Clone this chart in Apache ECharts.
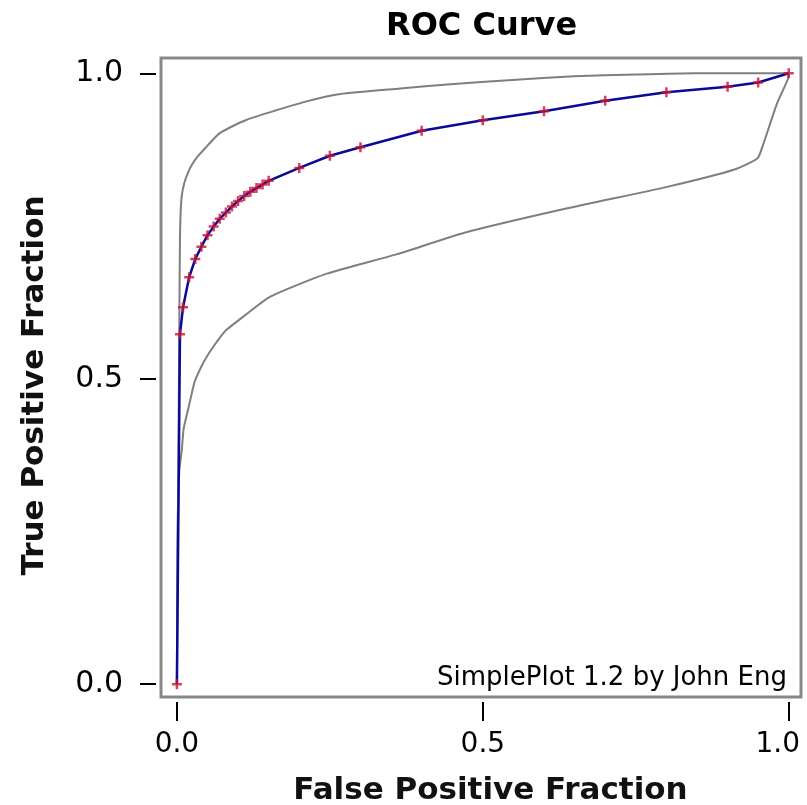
<!DOCTYPE html>
<html>
<head>
<meta charset="utf-8">
<script src="https://cdn.jsdelivr.net/npm/echarts@6/dist/echarts.min.js"></script>
<style>html,body{margin:0;padding:0;background:#fff;}#c{width:807px;height:805px;}</style>
</head>
<body>
<div id="c"></div>
<script>
// ROC operating points (fitted curve)
const fpf = [0,0.005,0.01,0.02,0.03,0.04,0.05,0.06,0.07,0.08,0.09,0.10,0.11,0.12,0.13,0.14,0.15,0.2,0.25,0.3,0.4,0.5,0.6,0.7,0.8,0.9,0.95,1.0];
const tpf = [0,0.573,0.617,0.666,0.696,0.716,0.735,0.749,0.762,0.772,0.782,0.791,0.799,0.806,0.812,0.818,0.824,0.845,0.865,0.879,0.906,0.923,0.938,0.955,0.969,0.978,0.985,1.0];
// Upper confidence bound
const upperX = [0,0.002,0.003,0.004,0.005,0.006,0.008,0.012,0.018,0.025,0.035,0.045,0.07,0.114,0.158,0.212,0.267,0.365,0.447,0.548,0.649,0.75,0.848,1.0];
const upperY = [0,0.3,0.45,0.6,0.727,0.77,0.8,0.82,0.837,0.851,0.865,0.876,0.902,0.924,0.938,0.954,0.966,0.975,0.982,0.989,0.995,0.998,1.0,1.0];
// Lower confidence bound
const lowerX = [0,0.001,0.004,0.008,0.011,0.020,0.029,0.04,0.05,0.062,0.07,0.081,0.109,0.152,0.245,0.36,0.47,0.638,0.801,0.91,0.949,0.957,0.981,0.998,1.0];
const lowerY = [0,0.25,0.35,0.383,0.418,0.457,0.495,0.52,0.538,0.556,0.567,0.58,0.602,0.634,0.672,0.704,0.739,0.779,0.814,0.842,0.861,0.88,0.951,0.989,1.0];
// Tick labels
const tickVals = [0,0.5,1];
const tickText = ['0.0','0.5','1.0'];

const zip = (a,b) => a.map((v,i)=>[v,b[i]]);
const chart = echarts.init(document.getElementById('c'));
const fmt = v => tickText[tickVals.indexOf(+v.toFixed(2))] ?? '';
const fmtX = v => { const t = fmt(v); return +v.toFixed(2) === 1 ? '{r|' + t + '}' : t; };
chart.setOption({
  animation:false,
  backgroundColor:'#fff',
  title:{text:'ROC Curve',left:381,top:6,textStyle:{fontFamily:'DejaVu Sans',fontWeight:'bold',fontSize:32,color:'#000'}},
  grid:{left:161,top:58,right:6,bottom:108,outerBoundsMode:'none',containLabel:false,show:true,borderColor:'#888',borderWidth:3,backgroundColor:'transparent'},
  xAxis:{type:'value',min:-0.026,max:1.02,offset:5,
    axisLine:{show:false,onZero:false},splitLine:{show:false},
    axisTick:{show:true,inside:false,length:19,lineStyle:{color:'#000',width:2},customValues:tickVals},
    axisLabel:{customValues:tickVals,formatter:fmtX,margin:29,fontFamily:'DejaVu Sans',fontSize:28,color:'#000',
      rich:{r:{fontFamily:'DejaVu Sans',fontSize:28,color:'#000',padding:[0,22,0,0]}}},
    name:'False Positive Fraction',nameLocation:'middle',nameGap:73,nameMoveOverlap:false,
    nameTextStyle:{fontFamily:'DejaVu Sans',fontWeight:'bold',fontSize:31,color:'#111',padding:[0,0,0,19]}},
  yAxis:{type:'value',min:-0.021,max:1.025,offset:5,
    axisLine:{show:false,onZero:false},splitLine:{show:false},
    axisTick:{show:true,inside:false,length:16,lineStyle:{color:'#000',width:2},customValues:tickVals},
    axisLabel:{customValues:tickVals,formatter:fmt,margin:33,fontFamily:'DejaVu Sans',fontSize:30,color:'#000'},
    name:'True Positive Fraction',nameLocation:'middle',nameGap:106,nameMoveOverlap:false,
    nameTextStyle:{fontFamily:'DejaVu Sans',fontWeight:'bold',fontSize:31,color:'#111',padding:[0,16,0,0]}},
  graphic:[{type:'text',right:20,top:665,style:{text:'SimplePlot 1.2 by John Eng',font:'26px "DejaVu Sans"',fill:'#000'}}],
  series:[
    {type:'line',data:zip(upperX,upperY),showSymbol:false,smooth:0.2,lineStyle:{color:'#7f7f7f',width:2},z:1},
    {type:'line',data:zip(lowerX,lowerY),showSymbol:false,smooth:0.2,lineStyle:{color:'#7f7f7f',width:2},z:1},
    {type:'line',data:zip(fpf,tpf),showSymbol:false,lineStyle:{color:'#0a0a99',width:2.5},z:2},
    {type:'scatter',data:zip(fpf,tpf),symbol:'path://M-1,-4H1V-1H4V1H1V4H-1V1H-4V-1H-1Z',symbolSize:10,itemStyle:{color:'#cc1133'},z:3}
  ]
});
</script>
</body>
</html>
